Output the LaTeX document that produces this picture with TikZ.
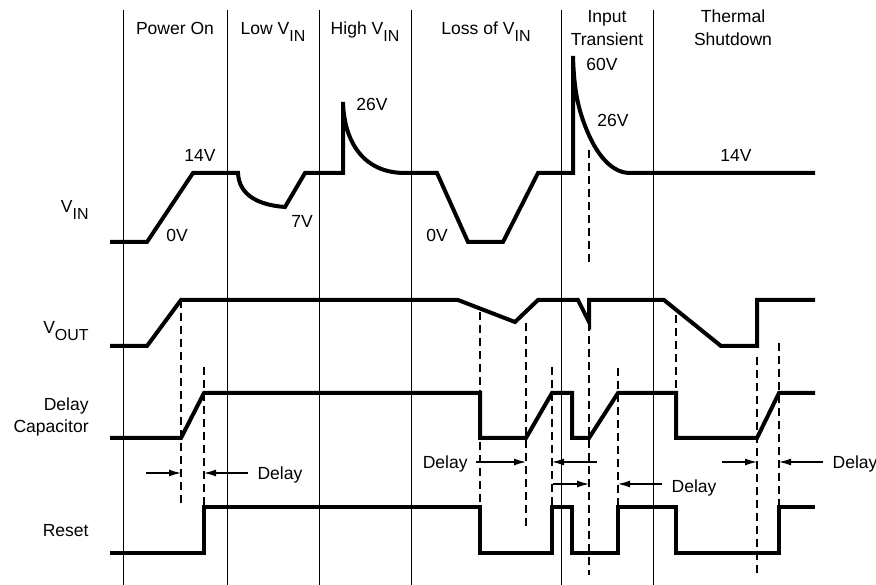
\documentclass[tikz,border=0pt]{standalone}
\usepackage{fontspec}
\setmainfont{Liberation Sans}
\usetikzlibrary{arrows.meta}
\newcommand{\lowsub}[1]{\raisebox{-3.2pt}{\fontsize{8}{9}\selectfont #1}}

\begin{document}
\begin{tikzpicture}[x=0.5bp, y=-0.5bp,
    every node/.style={font=\fontsize{8.8}{11.5}\selectfont, inner sep=1pt},
    wave/.style={line width=2bp},
    sep/.style={line width=0.5bp},
    guide/.style={line width=0.6bp, dash pattern=on 4bp off 2.5bp},
    tip/.style={line width=0.6bp, -{Latex[length=6bp,width=3.5bp]}}]
    \useasboundingbox (0,0) rectangle (876,585);

    \foreach \x in {123,227,319,411,561,653}
        \draw[sep] (\x,10) -- (\x,585);

    \node[anchor=base] (pon) at (175,35) {Power On};
    \node[anchor=base] (low) at (273,35) {Low V\lowsub{IN}};
    \node[anchor=base] (high) at (365,35) {High V\lowsub{IN}};
    \node[anchor=base] (loss) at (486,35) {Loss of V\lowsub{IN}};
    \node[align=center] (trans) at (607,28) {Input\\Transient};
    \node[align=center] (therm) at (733,28) {Thermal\\Shutdown};

    \node[anchor=base east] (vin) at (91,213) {V\lowsub{IN}};
    \node[anchor=base east] (vout) at (91,334) {V\lowsub{OUT}};
    \node[anchor=east, align=right] (dcap) at (91,417) {Delay\\Capacitor};
    \node[anchor=base east] (rst) at (91,536) {Reset};

    % input voltage
    \draw[wave] (110,242) -- (147,242) -- (193,173) -- (238,173)
        .. controls (239,195) and (258,205) .. (285,207)
        -- (305,173) -- (343,173) -- (343,102)
        .. controls (344,140) and (362,173) .. (405,173)
        -- (437,173) -- (468,242) -- (503,242) -- (538,173) -- (573,173) -- (573,56)
        .. controls (574,90) and (578,110) .. (588,133)
        .. controls (594,147) and (608,173) .. (630,173)
        -- (815,173);
    \node[anchor=base] (v14a) at (200,162) {14V};
    \node[anchor=base] (v0a) at (177,242) {0V};
    \node[anchor=base] (v7) at (302,228) {7V};
    \node[anchor=base] (v26a) at (372,111) {26V};
    \node[anchor=base] (v0b) at (437,242) {0V};
    \node[anchor=base] (v60) at (602,71) {60V};
    \node[anchor=base] (v26b) at (613,127) {26V};
    \node[anchor=base] (v14b) at (736,162) {14V};

    % output, delay capacitor, reset
    \draw[wave] (110,346) -- (147,346) -- (181,300) -- (458,300) -- (515,322)
        -- (538,300) -- (578,300) -- (589,322) -- (589,300) -- (664,300)
        -- (721,346) -- (757,346) -- (757,300) -- (815,300);
    \draw[wave] (110,438) -- (181,438) -- (204,393) -- (480,393) -- (480,438)
        -- (526,438) -- (552,393) -- (572,393) -- (572,438) -- (589,438)
        -- (618,393) -- (676,393) -- (676,438) -- (757,438) -- (779,393) -- (815,393);
    \draw[wave] (110,553) -- (204,553) -- (204,507) -- (480,507) -- (480,553)
        -- (552,553) -- (552,507) -- (572,507) -- (572,553) -- (618,553)
        -- (618,507) -- (676,507) -- (676,553) -- (779,553) -- (779,507) -- (815,507);

    \draw[guide] (181,300) -- (181,507);
    \draw[guide] (204,367) -- (204,507);
    \draw[guide] (480,312) -- (480,507);
    \draw[guide] (526,323) -- (526,531);
    \draw[guide] (552,367) -- (552,507);
    \draw[guide] (589,150) -- (589,265);
    \draw[guide] (589,323) -- (589,575);
    \draw[guide] (618,368) -- (618,507);
    \draw[guide] (676,315) -- (676,393);
    \draw[guide] (757,357) -- (757,577);
    \draw[guide] (779,343) -- (779,507);

    % delay markers
    \node[anchor=base] (d1) at (280,479) {Delay};
    \node[anchor=base east] (d2) at (470,468) {Delay};
    \node[anchor=base] (d3) at (694,492) {Delay};
    \node[anchor=base] (d4) at (855,468) {Delay};
    \coordinate (a1) at (146,473);
    \coordinate (a2) at (181,473);
    \coordinate (a3) at (248,473);
    \coordinate (a4) at (204,473);
    \coordinate (b1) at (476,462);
    \coordinate (b2) at (526,462);
    \coordinate (b3) at (597,462);
    \coordinate (b4) at (552,462);
    \coordinate (c1) at (553,484);
    \coordinate (c2) at (589,484);
    \coordinate (c3) at (662,484);
    \coordinate (c4) at (618,484);
    \coordinate (e1) at (722,462);
    \coordinate (e2) at (757,462);
    \coordinate (e3) at (823,462);
    \coordinate (e4) at (779,462);
    \draw[tip] (a1) to (a2);
    \draw[tip] (a3) to (a4);
    \draw[tip] (b1) to (b2);
    \draw[tip] (b3) to (b4);
    \draw[tip] (c1) to (c2);
    \draw[tip] (c3) to (c4);
    \draw[tip] (e1) to (e2);
    \draw[tip] (e3) to (e4);
\end{tikzpicture}
\end{document}
